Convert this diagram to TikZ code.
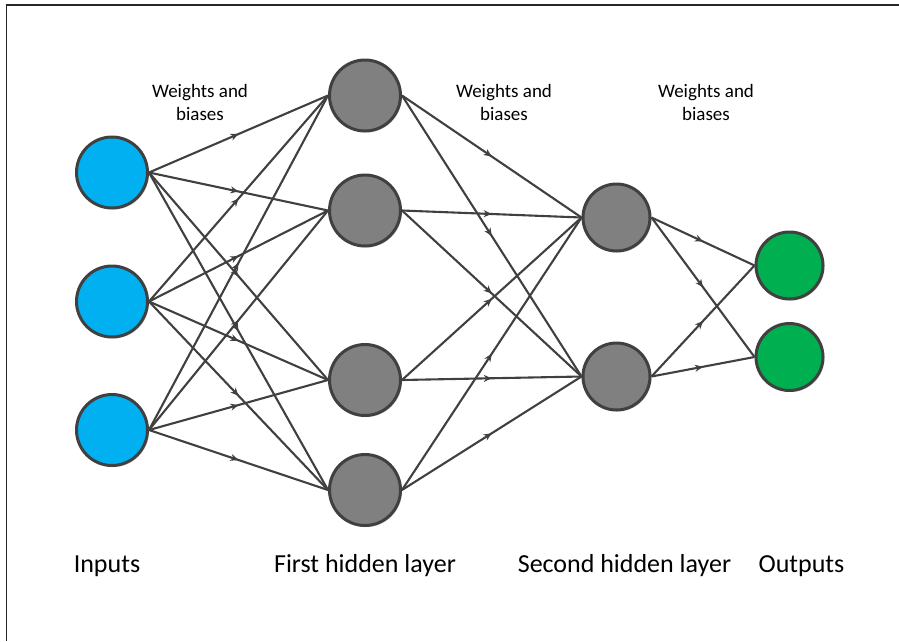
\documentclass[tikz,border=0pt]{standalone}
\usepackage{fontspec}
\setmainfont{Carlito}
\usetikzlibrary{arrows.meta,decorations.markings,shadows}
\definecolor{edgec}{HTML}{404040}
\definecolor{inblue}{HTML}{00B0F0}
\definecolor{hidgray}{HTML}{808080}
\definecolor{outgreen}{HTML}{00B050}
\tikzset{
  neuron/.style={circle, draw=edgec, line width=3pt, minimum size=#1, inner sep=0pt,
    drop shadow={shadow xshift=1.5pt, shadow yshift=-1.5pt, opacity=0.15, fill=black}},
  inneuron/.style={neuron=71pt, fill=inblue},
  hidneuron/.style={neuron=71pt, fill=hidgray},
  hid2neuron/.style={neuron=67pt, fill=hidgray},
  outneuron/.style={neuron=67pt, fill=outgreen},
  conn/.style={draw=edgec, line width=2.1pt, postaction={decorate},
    decoration={markings, mark=at position 0.5 with {\arrow[edgec]{Stealth[length=8pt,width=7pt,inset=2.5pt]}}}},
  wlabel/.style={align=center, font=\fontsize{19}{23}\selectfont},
  llabel/.style={font=\fontsize{26}{28}\selectfont}
}
\begin{document}
\begin{tikzpicture}[x=1pt,y=-1pt]
\useasboundingbox (0,0) rectangle (899,641);
\draw[line width=1.5pt, black!85] (6.5,641) -- (6.5,5) -- (899,5);
% nodes
\node[inneuron] (i1) at (112,172.5) {};
\node[inneuron] (i2) at (112,301.5) {};
\node[inneuron] (i3) at (112,430) {};
\node[hidneuron] (h1) at (365,95.5) {};
\node[hidneuron] (h2) at (365,210.5) {};
\node[hidneuron] (h3) at (365,380) {};
\node[hidneuron] (h4) at (365,490) {};
\node[hid2neuron] (s1) at (616.5,217.5) {};
\node[hid2neuron] (s2) at (616.5,376.5) {};
\node[outneuron] (o1) at (789.5,265.5) {};
\node[outneuron] (o2) at (789.5,357) {};
% connections
\foreach \a in {i1,i2,i3}{
  \foreach \b in {h1,h2,h3,h4}{
    \draw[conn] (\a.east) -- (\b.west);
  }
}
\foreach \a in {h1,h2,h3,h4}{
  \foreach \b in {s1,s2}{
    \draw[conn] (\a.east) -- (\b.west);
  }
}
\foreach \a in {s1,s2}{
  \foreach \b in {o1,o2}{
    \draw[conn] (\a.east) -- (\b.west);
  }
}
% labels
\node[wlabel] (w1) at (200,102) {Weights and\\biases};
\node[wlabel] (w2) at (504,102) {Weights and\\biases};
\node[wlabel] (w3) at (706,102) {Weights and\\biases};
\node[llabel] (l1) at (107,566) {Inputs};
\node[llabel] (l2) at (365,566) {First hidden layer};
\node[llabel] (l3) at (624.5,566) {Second hidden layer};
\node[llabel] (l4) at (801.5,566) {Outputs};
\end{tikzpicture}
\end{document}
